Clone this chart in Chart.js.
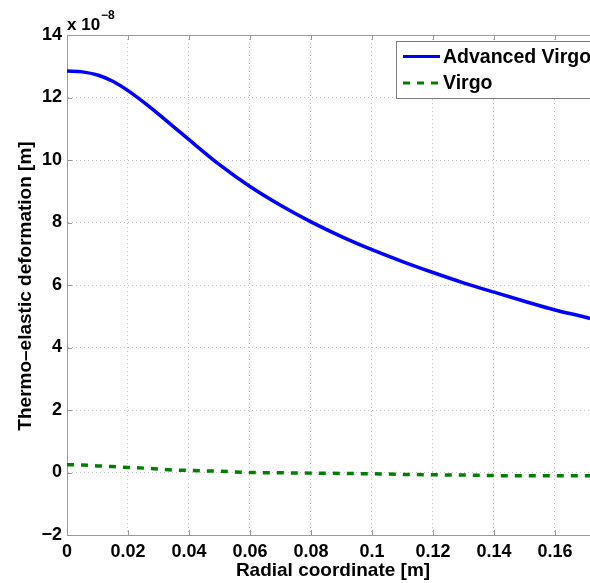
<!DOCTYPE html>
<html>
<head>
<meta charset="utf-8">
<script src="https://cdn.jsdelivr.net/npm/chart.js@4"></script>
<style>
  html, body { margin: 0; padding: 0; background: #fff; }
  #wrap { width: 590px; height: 583px; }
</style>
</head>
<body>
<div id="wrap"><canvas id="deformChart"></canvas></div>
<script>
// --- data (deformation in units of 1e-8 m) ---
const radius = [0, 0.005, 0.01, 0.015, 0.02, 0.025, 0.03, 0.035, 0.04, 0.05, 0.06, 0.07, 0.08, 0.09,
  0.1, 0.11, 0.12, 0.13, 0.14, 0.15, 0.16, 0.17, 0.1715];
const advancedVirgo = [12.85, 12.82, 12.72, 12.52, 12.22, 11.86, 11.47, 11.06, 10.65, 9.85, 9.15, 8.55, 8.02, 7.55,
  7.13, 6.75, 6.4, 6.07, 5.77, 5.48, 5.2, 4.97, 4.93];
const virgo = [0.25, 0.24, 0.21, 0.19, 0.16, 0.14, 0.11, 0.08, 0.065, 0.04, 0.0, -0.01, -0.02, -0.03,
  -0.04, -0.06, -0.075, -0.08, -0.1, -0.1, -0.1, -0.1, -0.1];
const seriesNames = ["Advanced Virgo", "Virgo"];
const xTicks = [0, 0.02, 0.04, 0.06, 0.08, 0.1, 0.12, 0.14, 0.16];
const yTicks = [-2, 0, 2, 4, 6, 8, 10, 12, 14];

const FONT = "'Liberation Sans', Arial, sans-serif";
const AXIS_GREY = "#9a9a9a";

function toPoints(ys) {
  return radius.map((r, i) => ({ x: r, y: ys[i] }));
}

// titles, exponent, inward ticks, top border and legend
const decorations = {
  id: "decorations",
  afterDraw(chart) {
    const ctx = chart.ctx;
    const area = chart.chartArea;
    const xs = chart.scales.x;
    const ys = chart.scales.y;
    ctx.save();

    // top border
    ctx.strokeStyle = AXIS_GREY;
    ctx.lineWidth = 1;
    ctx.beginPath();
    ctx.moveTo(area.left, area.top + 0.5);
    ctx.lineTo(area.right, area.top + 0.5);
    ctx.stroke();

    // inward tick marks
    ctx.beginPath();
    xTicks.forEach(v => {
      const px = Math.round(xs.getPixelForValue(v)) + 0.5;
      ctx.moveTo(px, area.bottom); ctx.lineTo(px, area.bottom - 5);
      ctx.moveTo(px, area.top); ctx.lineTo(px, area.top + 5);
    });
    yTicks.forEach(v => {
      const py = Math.round(ys.getPixelForValue(v)) + 0.5;
      ctx.moveTo(area.left, py); ctx.lineTo(area.left + 5, py);
    });
    ctx.stroke();

    // axis titles
    ctx.fillStyle = "#000";
    ctx.font = "bold 19px " + FONT;
    ctx.textAlign = "center";
    ctx.textBaseline = "middle";
    ctx.fillText("Radial coordinate [m]", 333, 571);
    ctx.save();
    ctx.translate(26, 286);
    ctx.rotate(-Math.PI / 2);
    ctx.fillText("Thermo\u2013elastic deformation [m]", 0, 0);
    ctx.restore();

    // exponent label
    ctx.textAlign = "left";
    ctx.textBaseline = "alphabetic";
    ctx.font = "bold 17px " + FONT;
    ctx.fillText("x 10", 67, 30);
    ctx.font = "bold 12px " + FONT;
    ctx.fillText("\u22128", 101, 19);

    // legend box
    const bx = 396, by = 41, bw = 220, bh = 57;
    ctx.fillStyle = "#fff";
    ctx.fillRect(bx, by, bw, bh);
    ctx.strokeStyle = "#7a7a7a";
    ctx.strokeRect(bx + 0.5, by + 0.5, bw, bh);
    const rows = [56.5, 83];
    chart.data.datasets.forEach((ds, i) => {
      ctx.strokeStyle = ds.borderColor;
      ctx.lineWidth = 3;
      ctx.setLineDash(ds.borderDash || []);
      ctx.beginPath();
      ctx.moveTo(403, rows[i]);
      ctx.lineTo(440, rows[i]);
      ctx.stroke();
      ctx.setLineDash([]);
      ctx.fillStyle = "#000";
      ctx.font = "bold 19.5px " + FONT;
      ctx.textBaseline = "middle";
      ctx.fillText(ds.label, 443, rows[i] + 1);
    });
    ctx.restore();
  }
};

new Chart(document.getElementById("deformChart"), {
  type: "line",
  data: {
    datasets: [
      {
        label: seriesNames[0],
        data: toPoints(advancedVirgo),
        borderColor: "#0000ff",
        borderWidth: 3.5,
        pointRadius: 0,
        cubicInterpolationMode: "monotone",
        fill: false,
      },
      {
        label: seriesNames[1],
        data: toPoints(virgo),
        borderColor: "#008000",
        borderWidth: 3.5,
        borderDash: [7, 7],
        pointRadius: 0,
        tension: 0,
        fill: false,
      },
    ],
  },
  options: {
    responsive: true,
    maintainAspectRatio: false,
    animation: false,
    layout: { padding: { top: 35, right: 0, bottom: 0, left: 0 } },
    plugins: {
      legend: { display: false },
      tooltip: { enabled: false },
    },
    scales: {
      x: {
        type: "linear",
        min: 0,
        max: 0.1715,
        afterFit: s => { s.height = 48; },
        afterBuildTicks: s => { s.ticks = xTicks.map(v => ({ value: v })); },
        ticks: {
          padding: 6,
          color: "#000",
          font: { family: FONT, size: 18, weight: "bold" },
          maxRotation: 0,
          callback: v => (v === 0 ? "0" : String(parseFloat(v.toFixed(2)))),
        },
        grid: { color: "#c4c4c4", drawTicks: false, lineWidth: 1 },
        border: { color: AXIS_GREY, dash: [1, 3] },
      },
      y: {
        min: -2,
        max: 14,
        afterFit: s => { s.width = 67; },
        afterBuildTicks: s => { s.ticks = yTicks.map(v => ({ value: v })); },
        ticks: {
          padding: 5,
          color: "#000",
          font: { family: FONT, size: 18, weight: "bold" },
          callback: v => (v < 0 ? "\u2212" + Math.abs(v) : String(v)),
        },
        grid: { color: "#c4c4c4", drawTicks: false, lineWidth: 1 },
        border: { color: AXIS_GREY, dash: [1, 3] },
      },
    },
  },
  plugins: [decorations],
});
</script>
</body>
</html>
